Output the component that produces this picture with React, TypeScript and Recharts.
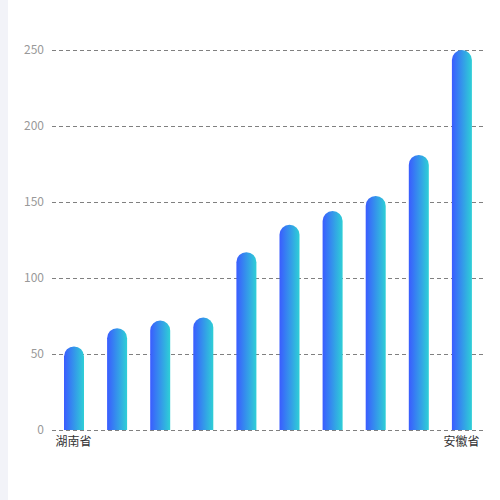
import { BarChart, Bar, XAxis, YAxis, CartesianGrid } from "recharts";

const provinces = ["湖南省", "江西省", "湖北省", "河南省", "山东省", "江苏省", "浙江省", "福建省", "广东省", "安徽省"];
const amounts = [55, 67, 72, 74, 117, 135, 144, 154, 181, 250];
const yTicks = [0, 50, 100, 150, 200, 250];
const shownLabels = ["湖南省", "安徽省"];

const data = provinces.map((name, i) => ({ name, value: amounts[i] }));

export default function App() {
    return (
        <div style={{ position: "fixed", left: 0, top: 0, width: 500, height: 500, background: "#fff", fontFamily: "'Noto Sans CJK SC', 'Noto Sans', sans-serif" }}>
            <div style={{ position: "absolute", left: 0, top: 0, width: 8, height: 500, background: "#f2f3f8" }} />
            <BarChart width={500} height={500} data={data} margin={{ top: 50, right: 17, bottom: 40, left: 0 }}>
                <defs>
                    <linearGradient id="barGrad" x1="0" y1="0" x2="1" y2="0">
                        <stop offset="0%" stopColor="#3a5cff" />
                        <stop offset="100%" stopColor="#2ecfd6" />
                    </linearGradient>
                </defs>
                <CartesianGrid vertical={false} stroke="#808080" strokeDasharray="4 3" shapeRendering="crispEdges" />
                <XAxis
                    dataKey="name"
                    ticks={shownLabels}
                    interval={0}
                    axisLine={false}
                    tickLine={false}
                    tickSize={0}
                    tickMargin={7}
                    tick={{ fill: "#333", fontSize: 12 }}
                />
                <YAxis
                    domain={[0, 250]}
                    ticks={yTicks}
                    width={52}
                    axisLine={false}
                    tickLine={false}
                    tickSize={0}
                    tickMargin={8}
                    tick={{ fill: "#999", fontSize: 12 }}
                />
                <Bar dataKey="value" barSize={20} fill="url(#barGrad)" radius={[10, 10, 0, 0]} isAnimationActive={false} />
            </BarChart>
        </div>
    );
}
